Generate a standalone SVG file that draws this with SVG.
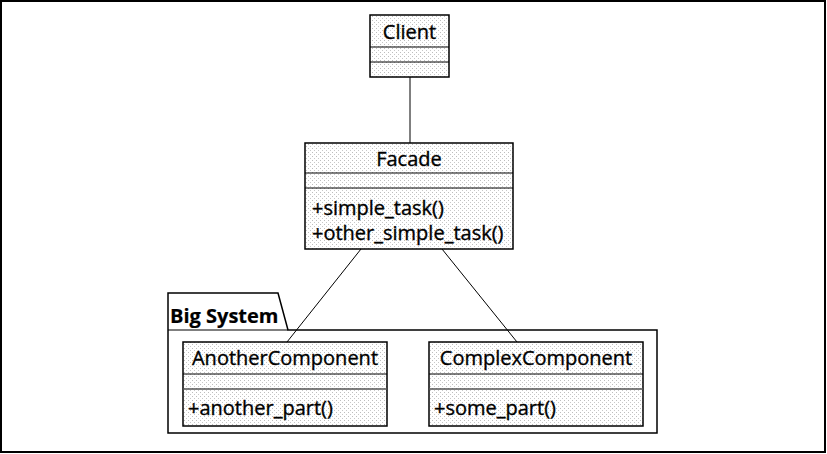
<svg xmlns="http://www.w3.org/2000/svg" width="827" height="454" viewBox="0 0 827 454">
<defs>
<pattern id="stip" width="4" height="4" patternUnits="userSpaceOnUse">
<rect width="4" height="4" fill="#ffffff"/>
<rect x="0" y="0" width="1" height="1" fill="#bdbdbd"/>
<rect x="2" y="2" width="1" height="1" fill="#c8c8c8"/>
</pattern>
<style>
.box{fill:url(#stip);stroke:#000;stroke-width:1.5}
.sep{stroke:#000;stroke-width:1.2;fill:none}
.sep2{stroke:#555;stroke-width:1.5;fill:none}
.t{font-family:"Open Sans","Noto Sans","DejaVu Sans",sans-serif;font-size:20px;fill:#000;stroke:#000;stroke-width:0.35}
.c{text-anchor:middle}
.pkg{fill:#fff;stroke:#000;stroke-width:1.5}
.b{font-weight:bold;stroke-width:0.2}
.edge{stroke:#000;stroke-width:1;fill:none}
</style>
</defs>
<rect x="1" y="1" width="824" height="451" fill="#fff" stroke="#000" stroke-width="2"/>

<g id="big-system">
<path class="pkg" d="M168,293 L278,293 L288,330 L657,330 L657,433 L168,433 Z"/>
<line class="sep" x1="168" y1="330" x2="288" y2="330"/>
<text class="t b" x="170" y="323">Big System</text>
</g>

<g id="connectors">
<line class="edge" x1="410" y1="77" x2="410" y2="143"/>
<line class="edge" x1="361" y1="249" x2="287" y2="342"/>
<line class="edge" x1="442" y1="249" x2="517" y2="342"/>
</g>

<g id="client">
<rect class="box" x="370" y="15" width="79" height="62"/>
<line class="sep" x1="370" y1="47" x2="449" y2="47"/>
<line class="sep" x1="370" y1="62" x2="449" y2="62"/>
<text class="t c" x="409.5" y="39">Client</text>
</g>

<g id="facade">
<rect class="box" x="305" y="143" width="208" height="106"/>
<line class="sep" x1="305" y1="173" x2="513" y2="173"/>
<line class="sep" x1="305" y1="188" x2="513" y2="188"/>
<text class="t c" x="409" y="166">Facade</text>
<text class="t" x="312" y="215">+simple_task()</text>
<text class="t" x="312" y="240">+other_simple_task()</text>
</g>

<g id="another-component">
<rect class="box" x="183" y="342" width="204" height="84"/>
<line class="sep" x1="183" y1="374" x2="387" y2="374"/>
<line class="sep2" x1="183" y1="389" x2="387" y2="389"/>
<text class="t c" x="285" y="365">AnotherComponent</text>
<text class="t" x="188" y="415">+another_part()</text>
</g>

<g id="complex-component">
<rect class="box" x="429" y="342" width="214" height="84"/>
<line class="sep" x1="429" y1="374" x2="643" y2="374"/>
<line class="sep2" x1="429" y1="389" x2="643" y2="389"/>
<text class="t c" x="536" y="365">ComplexComponent</text>
<text class="t" x="434" y="415">+some_part()</text>
</g>
</svg>
